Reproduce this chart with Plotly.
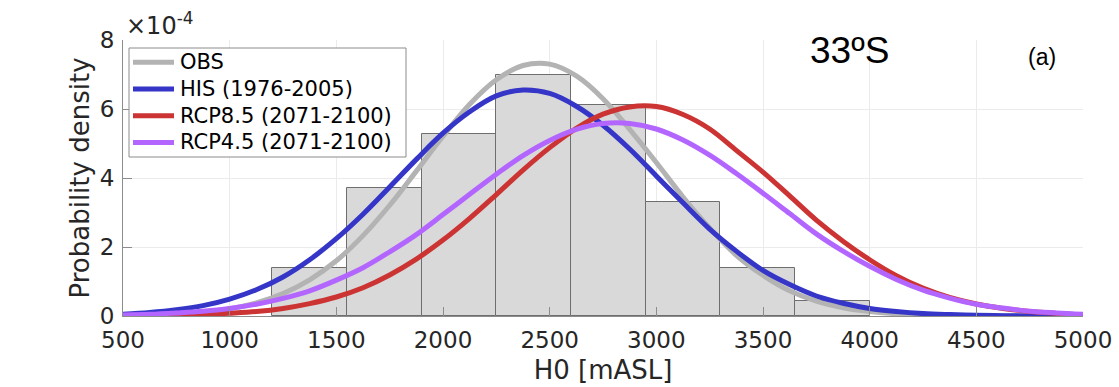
import plotly.graph_objects as go

# Histogram of observed H0 (density, units of 1e-4 per m)
bin_edges = [1200, 1550, 1900, 2250, 2600, 2950, 3300, 3650, 4000]
obs_hist = [1.39, 3.70, 5.29, 6.98, 6.13, 3.30, 1.40, 0.43]

# Fitted probability density curves (units of 1e-4)
h0_grid = [500, 625, 750, 875, 1000, 1125, 1250, 1375, 1500, 1625,
           1750, 1875, 2000, 2125, 2250, 2375, 2500, 2625, 2750, 2875,
           3000, 3125, 3250, 3375, 3500, 3625, 3750, 3875, 4000, 4125,
           4250, 4375, 4500, 4625, 4750, 4875, 5000]
pdf_obs = [0.01, 0.03, 0.06, 0.11, 0.21, 0.38, 0.65, 1.05, 1.60, 2.33,
           3.21, 4.20, 5.21, 6.14, 6.85, 7.26, 7.30, 6.96, 6.30, 5.41,
           4.45, 3.45, 2.55, 1.76, 1.18, 0.73, 0.43, 0.24, 0.13, 0.065,
           0.03, 0.014, 0.006, 0.003, 0.0, 0.0, 0.0]
pdf_his = [0.05, 0.10, 0.18, 0.30, 0.49, 0.76, 1.13, 1.63, 2.24, 2.95,
           3.74, 4.54, 5.30, 5.92, 6.38, 6.55, 6.45, 6.08, 5.53, 4.84,
           4.06, 3.28, 2.52, 1.88, 1.32, 0.91, 0.58, 0.37, 0.22, 0.13,
           0.07, 0.04, 0.02, 0.01, 0.0, 0.0, 0.0]
pdf_rcp85 = [0.01, 0.012, 0.02, 0.043, 0.08, 0.13, 0.22, 0.36, 0.55, 0.82,
             1.19, 1.65, 2.20, 2.83, 3.52, 4.23, 4.88, 5.44, 5.85, 6.06,
             6.07, 5.84, 5.42, 4.80, 4.17, 3.48, 2.78, 2.17, 1.63, 1.17,
             0.81, 0.54, 0.35, 0.22, 0.13, 0.076, 0.04]
pdf_rcp45 = [0.03, 0.05, 0.09, 0.14, 0.22, 0.34, 0.51, 0.73, 1.04, 1.40,
             1.86, 2.36, 2.94, 3.53, 4.11, 4.65, 5.09, 5.41, 5.58, 5.58,
             5.42, 5.10, 4.66, 4.13, 3.56, 2.97, 2.38, 1.88, 1.44, 1.06,
             0.75, 0.52, 0.34, 0.23, 0.14, 0.09, 0.05]

series_names = ["OBS", "HIS (1976-2005)", "RCP8.5 (2071-2100)", "RCP4.5 (2071-2100)"]
series_colors = ["#b3b3b3", "#3535c8", "#cc3333", "#b366ff"]

x_ticks = [500, 1000, 1500, 2000, 2500, 3000, 3500, 4000, 4500, 5000]
y_ticks = [0, 2, 4, 6, 8]

FONT = "DejaVu Sans"
TXT = "#262626"
AX = "#8c8c8c"

# Figure geometry (pixels)
W, H = 1119, 387
ML, MR, MT, MB = 123, 36, 40, 71
PW, PH = W - ML - MR, H - MT - MB


def px(x):
    return (x - ML) / PW


def py(y):
    return 1 - (y - MT) / PH


centers = [(a + b) / 2 for a, b in zip(bin_edges[:-1], bin_edges[1:])]
widths = [b - a for a, b in zip(bin_edges[:-1], bin_edges[1:])]

fig = go.Figure()
fig.add_trace(go.Bar(
    x=centers, y=obs_hist, width=widths, showlegend=False,
    marker=dict(color="#d9d9d9", line=dict(color="#6e6e6e", width=1)),
    hoverinfo="skip",
))
for name, color, ys in zip(series_names, series_colors,
                           [pdf_obs, pdf_his, pdf_rcp85, pdf_rcp45]):
    fig.add_trace(go.Scatter(
        x=h0_grid, y=ys, mode="lines", name=name, showlegend=False,
        line=dict(color=color, width=5, shape="spline", smoothing=1.0),
    ))

fig.update_layout(
    width=W, height=H,
    margin=dict(l=ML, r=MR, t=MT, b=MB, autoexpand=False),
    paper_bgcolor="white", plot_bgcolor="white",
    font=dict(family=FONT, color=TXT, size=23),
    bargap=0,
    showlegend=False,
    xaxis=dict(
        range=[500, 5000], tickvals=x_ticks, automargin=False,
        ticks="inside", ticklen=9, tickcolor=AX,
        showline=True, linecolor=AX, linewidth=1, mirror=False,
        showgrid=True, gridcolor="#ebebeb", gridwidth=1, zeroline=False,
        tickfont=dict(family=FONT, size=23, color=TXT),
        ticklabelstandoff=3,
        title=dict(text="H0 [mASL]", font=dict(family=FONT, size=26, color=TXT), standoff=9),
    ),
    yaxis=dict(
        range=[0, 8], tickvals=y_ticks, automargin=False,
        ticks="inside", ticklen=9, tickcolor=AX,
        showline=True, linecolor=AX, linewidth=1, mirror=False,
        showgrid=True, gridcolor="#ebebeb", gridwidth=1, zeroline=False,
        tickfont=dict(family=FONT, size=23, color=TXT),
        ticklabelstandoff=3,
        title=dict(text="Probability density", font=dict(family=FONT, size=26, color=TXT), standoff=2),
    ),
)

# Legend box drawn in the upper-left corner of the axes
shapes = [dict(type="rect", xref="paper", yref="paper",
               x0=px(129), x1=px(406), y0=py(157), y1=py(48),
               fillcolor="white", line=dict(color="#8c8c8c", width=1), layer="above")]
annotations = []
row_y0, row_dy = 62.3, 26.7
for i, (name, color) in enumerate(zip(series_names, series_colors)):
    ry = row_y0 + i * row_dy
    shapes.append(dict(type="line", xref="paper", yref="paper",
                       x0=px(133), x1=px(174), y0=py(ry), y1=py(ry),
                       line=dict(color=color, width=5), layer="above"))
    annotations.append(dict(text=name, xref="paper", yref="paper",
                            x=px(178), y=py(ry), xanchor="left", yanchor="middle",
                            showarrow=False,
                            font=dict(family=FONT, size=21, color="#000000")))

annotations += [
    dict(text="×10<sup>-4</sup>", xref="paper", yref="paper", x=px(124), y=py(24),
         xanchor="left", yanchor="middle", showarrow=False,
         font=dict(family=FONT, size=24, color=TXT)),
    dict(text="33ºS", xref="paper", yref="paper", x=px(849), y=py(50),
         xanchor="center", yanchor="middle", showarrow=False,
         font=dict(family="Liberation Sans", size=37, color="#000000")),
    dict(text="(a)", xref="paper", yref="paper", x=px(1042), y=py(57),
         xanchor="center", yanchor="middle", showarrow=False,
         font=dict(family="Liberation Sans", size=23, color="#000000")),
]
fig.update_layout(shapes=shapes, annotations=annotations)

fig.write_html("out.html")
